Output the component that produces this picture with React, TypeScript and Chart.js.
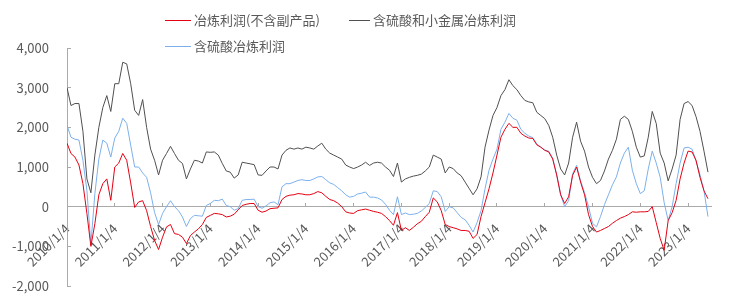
import React, { useEffect, useRef } from 'react';
import { Chart, registerables } from 'chart.js';

Chart.register(...registerables);

// Monthly observations from 2010/1 to 2023/6
const startYear = 2010;
const months: string[] = Array.from({ length: 162 }, (_, i) => `${startYear + Math.floor(i / 12)}/${(i % 12) + 1}/4`);

const yearTickLabels = [
  '2010/1/4', '2011/1/4', '2012/1/4', '2013/1/4', '2014/1/4', '2015/1/4', '2016/1/4',
  '2017/1/4', '2018/1/4', '2019/1/4', '2020/1/4', '2021/1/4', '2022/1/4', '2023/1/4',
];

const yTickValues = [-2000, -1000, 0, 1000, 2000, 3000, 4000];

const seriesNames = ['冶炼利润(不含副产品)', '含硫酸和小金属冶炼利润', '含硫酸冶炼利润'];

// 冶炼利润(不含副产品)
const profitNoByproduct = [
  1600, 1340, 1250, 1050, 580, -170, -1000, -430, 300, 580, 700, 160,
  1000, 1100, 1340, 1170, 600, -20, 120, 150, -100, -500, -850, -1080,
  -770, -510, -450, -680, -700, -770, -930, -730, -640, -560, -450, -270,
  -220, -170, -180, -200, -260, -240, -190, -80, 30, 60, 80, 80,
  -90, -140, -110, -50, -40, -30, 180, 260, 290, 300, 330, 320,
  300, 300, 330, 380, 350, 260, 180, 150, 90, 0, -130, -160,
  -170, -100, -80, -60, -90, -120, -140, -170, -250, -350, -470, -150,
  -600, -530, -600, -520, -430, -370, -250, -140, 220, 120, -100, -450,
  -500, -530, -560, -600, -600, -620, -800, -700, -250, 100, 450, 850,
  1300, 1750, 1950, 2100, 2000, 2000, 1850, 1780, 1730, 1720, 1560, 1500,
  1420, 1380, 1200, 800, 300, 80, 250, 790, 1000, 620, 300, -200,
  -500, -640, -600, -550, -500, -420, -350, -290, -250, -200, -130, -140,
  -130, -130, -120, 0, -400, -800, -1100, -350, -150, 160, 700, 1100,
  1400, 1380, 1170, 740, 400, 200,
];

// 含硫酸和小金属冶炼利润
const profitAcidMetals = [
  3000, 2550, 2600, 2600, 1900, 700, 350, 1300, 2000, 2500, 2800, 2400,
  3100, 3100, 3640, 3600, 3100, 2430, 2300, 2700, 2000, 1450, 1170, 800,
  1170, 1340, 1520, 1340, 1170, 1090, 700, 950, 1170, 1150, 1100, 1380,
  1370, 1380, 1300, 1090, 900, 870, 720, 800, 1120, 1100, 1080, 1060,
  800, 790, 900, 1000, 1000, 950, 1300, 1420, 1480, 1450, 1480, 1450,
  1500, 1480, 1450, 1530, 1600, 1450, 1350, 1300, 1250, 1200, 1050, 1000,
  960, 1000, 1050, 1120, 1040, 1100, 1120, 1100, 1000, 920, 760, 1100,
  620, 700, 740, 770, 790, 820, 900, 1000, 1300, 1250, 1200, 850,
  1000, 960, 850, 780, 620, 460, 300, 450, 750, 1500, 1930, 2300,
  2500, 2800, 2950, 3200, 3050, 2950, 2800, 2680, 2640, 2620, 2380, 2300,
  2220, 2050, 1750, 1300, 950, 800, 1100, 1750, 2130, 1650, 1400, 1000,
  740, 580, 660, 900, 1200, 1420, 1700, 2200, 2280, 2200, 1900, 1500,
  1250, 1280, 1750, 2400, 2100, 1350, 1100, 650, 950, 1300, 2200, 2600,
  2650, 2550, 2270, 1900, 1400, 870,
];

// 含硫酸冶炼利润
const profitAcid = [
  2050, 1750, 1700, 1680, 1170, 410, -950, 330, 1200, 1680, 1600, 1250,
  1730, 1900, 2230, 2100, 1550, 1000, 1000, 850, 740, 350, -150, -450,
  -170, 0, 150, 0, -100, -260, -500, -300, -220, -230, -240, 30,
  80, 160, 150, 190, 30, 0, -90, -50, 160, 180, 180, 190,
  0, -40, 20, 100, 120, 50, 500, 580, 580, 620, 660, 680,
  660, 660, 700, 750, 760, 680, 600, 560, 480, 400, 300, 240,
  260, 320, 340, 370, 240, 240, 220, 170, 60, -90, -200, 250,
  -200, -160, -200, -190, -170, -110, -20, 80, 400, 380, 250, -120,
  0, -30, -150, -270, -330, -470, -640, -400, -100, 450, 920, 1200,
  1450, 1950, 2130, 2350, 2230, 2180, 1950, 1850, 1780, 1740, 1580, 1500,
  1430, 1400, 1220, 800, 300, 0, 150, 830, 1040, 650, 350, 0,
  -420, -510, -250, 50, 300, 550, 750, 1100, 1350, 1500, 920, 580,
  330, 400, 950, 1400, 1100, 740, 100, -350, 0, 580, 1100, 1480,
  1500, 1450, 1150, 800, 400, -250,
];

const RED = '#e50012';
const GRAY = '#505050';
const BLUE = '#7cb0ec';
const AXIS = '#aaaaaa';
const TEXT = '#595959';
const FONT = "'Noto Sans CJK SC', 'Noto Sans', sans-serif";

function toX(label: string): number {
  const [y, m] = label.split('/').map(Number);
  return y + (m - 1) / 12;
}

const legendItems = [
  { name: seriesNames[0], color: RED, left: 165, top: 20, lineW: 26 },
  { name: seriesNames[1], color: GRAY, left: 349, top: 20, lineW: 21 },
  { name: seriesNames[2], color: BLUE, left: 165, top: 46, lineW: 26 },
];

export default function App() {
  const ref = useRef<HTMLCanvasElement>(null);

  useEffect(() => {
    document.body.style.margin = '0';
    const canvas = ref.current;
    if (!canvas) return;
    const xs = months.map(toX);
    const mk = (arr: number[]) => arr.map((v, i) => ({ x: xs[i], y: v }));
    const ds = (label: string, arr: number[], color: string) => ({
      label,
      data: mk(arr),
      borderColor: color,
      backgroundColor: color,
      borderWidth: 1,
      pointRadius: 0,
      tension: 0,
      fill: false,
    });

    const chart = new Chart(canvas, {
      type: 'line',
      data: {
        datasets: [
          ds(seriesNames[0], profitNoByproduct, RED),
          ds(seriesNames[1], profitAcidMetals, GRAY),
          ds(seriesNames[2], profitAcid, BLUE),
        ],
      },
      options: {
        responsive: false,
        animation: false,
        layout: { padding: { top: 48, right: 28, bottom: 16, left: 0 } },
        plugins: { legend: { display: false }, tooltip: { enabled: false } },
        scales: {
          x: {
            type: 'linear',
            min: 2010,
            max: 2023.48,
            position: { y: 0 } as any,
            afterFit: (s: any) => {
              s.paddingLeft = 0;
              s.paddingRight = 0;
              s.paddingTop = 0;
              s.paddingBottom = 0;
              s.height = 0;
            },
            ticks: {
              stepSize: 1,
              includeBounds: false,
              autoSkip: false,
              minRotation: 45,
              maxRotation: 45,
              padding: 18,
              color: TEXT,
              font: { family: FONT, size: 13 },
              callback: (v: any) => {
                const idx = Math.round(Number(v)) - 2010;
                return Number.isInteger(Number(v)) && yearTickLabels[idx] ? yearTickLabels[idx] : null;
              },
            },
            grid: { display: true, drawOnChartArea: false, drawTicks: true, tickLength: -4, color: AXIS },
            border: { display: true, color: AXIS, width: 1 },
          },
          y: {
            type: 'linear',
            min: yTickValues[0],
            max: yTickValues[yTickValues.length - 1],
            afterFit: (s: any) => {
              s.width = 67;
              s.paddingTop = 0;
              s.paddingBottom = 0;
            },
            ticks: {
              stepSize: 1000,
              padding: 22,
              color: TEXT,
              font: { family: FONT, size: 13 },
              callback: (v: any) => Number(v).toLocaleString('en-US'),
            },
            grid: { display: true, drawOnChartArea: false, drawTicks: true, tickLength: -4, color: AXIS },
            border: { display: true, color: AXIS, width: 1 },
          },
        },
      },
    });
    return () => chart.destroy();
  }, []);

  return (
    <div style={{ position: 'fixed', left: 0, top: 0, width: 739, height: 302, background: '#fff' }}>
      <canvas ref={ref} width={739} height={302} style={{ position: 'absolute', left: 0, top: 0 }} />
      {legendItems.map((it) => (
        <div key={it.name}>
          <div
            style={{
              position: 'absolute',
              left: it.left,
              top: it.top,
              width: it.lineW,
              height: 0,
              borderTop: `1.5px solid ${it.color}`,
            }}
          />
          <div
            style={{
              position: 'absolute',
              left: it.left + it.lineW + 3,
              top: it.top - 9,
              height: 18,
              lineHeight: '18px',
              fontFamily: FONT,
              fontSize: 13,
              color: TEXT,
              whiteSpace: 'nowrap',
            }}
          >
            {it.name}
          </div>
        </div>
      ))}
    </div>
  );
}
